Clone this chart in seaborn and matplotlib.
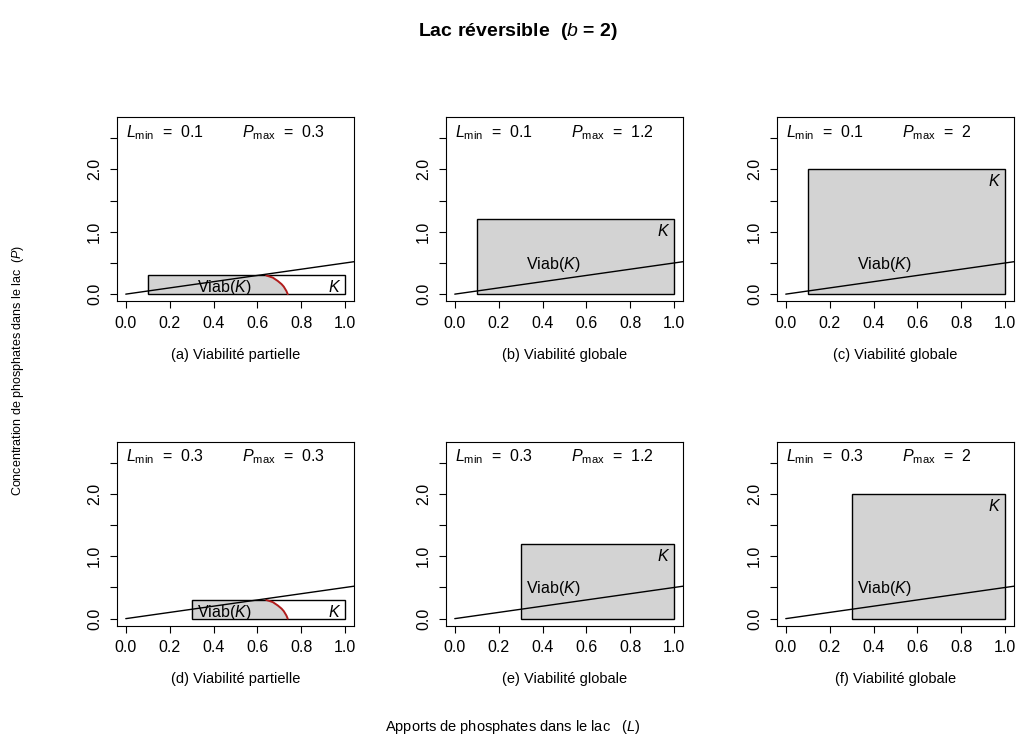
import numpy as np
import matplotlib
matplotlib.use("Agg")
import matplotlib.pyplot as plt
import seaborn as sns
import pandas as pd
from matplotlib.patches import Rectangle

# ---------------- data ----------------
captions = ["(a) Viabilité partielle", "(b) Viabilité globale", "(c) Viabilité globale",
            "(d) Viabilité partielle", "(e) Viabilité globale", "(f) Viabilité globale"]
L_min = [0.1, 0.1, 0.1, 0.3, 0.3, 0.3]
P_max = [0.3, 1.2, 2.0, 0.3, 1.2, 2.0]
L_min_text = ["0.1", "0.1", "0.1", "0.3", "0.3", "0.3"]
P_max_text = ["0.3", "1.2", "2", "0.3", "1.2", "2"]
partial = [True, False, False, True, False, False]

# equilibrium line P = L / b  (b = 2)
eq_L = [0.0, 1.1]
eq_P = [0.0, 0.55]

# boundary of the viability kernel (partial case)
curve_L = [0.64, 0.67, 0.693, 0.71, 0.72, 0.732, 0.738]
curve_P = [0.30, 0.265, 0.21, 0.16, 0.12, 0.05, 0.0]

x_ticks = [0.0, 0.2, 0.4, 0.6, 0.8, 1.0]
x_tick_labels = ["0.0", "0.2", "0.4", "0.6", "0.8", "1.0"]
y_ticks = [0.0, 0.5, 1.0, 1.5, 2.0, 2.5]
y_tick_labels = ["0.0", "", "1.0", "", "2.0", ""]

# ---------------- style ----------------
sns.set_style("white")
plt.rcParams["font.family"] = ["Liberation Sans", "DejaVu Sans"]
plt.rcParams["mathtext.fontset"] = "custom"
plt.rcParams["mathtext.rm"] = "Liberation Sans"
plt.rcParams["mathtext.it"] = "Liberation Sans:italic"
plt.rcParams["mathtext.bf"] = "Liberation Sans:bold"
plt.rcParams["text.color"] = "black"
plt.rcParams["axes.labelcolor"] = "black"
plt.rcParams["xtick.color"] = "black"
plt.rcParams["ytick.color"] = "black"
plt.rcParams["xtick.labelcolor"] = "black"
plt.rcParams["ytick.labelcolor"] = "black"

W, H = 1021, 741
fig = plt.figure(figsize=(W / 100, H / 100), dpi=100)
fig.patch.set_facecolor("white")

GRAY = "#d3d3d3"
FS = 11.5
FS_CAP = 10.5

col_left = [117, 446, 777]
row_top = [117, 441.5]
ax_w, ax_h = 237, 184

for i in range(6):
    r, c = divmod(i, 3)
    left = col_left[c] / W
    bottom = 1 - (row_top[r] + ax_h) / H
    ax = fig.add_axes([left, bottom, ax_w / W, ax_h / H])
    ax.set_xlim(-0.04, 1.04)
    ax.set_ylim(-0.11, 2.84)

    lm, pm = L_min[i], P_max[i]
    if partial[i]:
        poly_L = [lm, lm] + curve_L
        poly_P = [0.0, pm] + curve_P
        ax.fill(poly_L, poly_P, color=GRAY, lw=0, zorder=1)
        ax.add_patch(Rectangle((lm, 0), 1 - lm, pm, facecolor="none",
                               edgecolor="black", lw=1.0, zorder=2))
        sns.lineplot(x=curve_L, y=curve_P, ax=ax, color="#b01c1c", lw=1.4,
                     sort=False, zorder=3)
    else:
        ax.add_patch(Rectangle((lm, 0), 1 - lm, pm, facecolor=GRAY,
                               edgecolor="black", lw=1.0, zorder=2))

    sns.lineplot(x=eq_L, y=eq_P, ax=ax, color="black", lw=1.0, zorder=4)

    # annotations
    ax.text(0.0, 2.52, r"$L_{\mathrm{min}}$" + "  =  " + L_min_text[i],
            fontsize=FS, ha="left", va="baseline")
    ax.text(0.53, 2.52, r"$P_{\mathrm{max}}$" + "  =  " + P_max_text[i],
            fontsize=FS, ha="left", va="baseline")
    if partial[i]:
        ax.text(0.45, 0.10, r"Viab($K$)", fontsize=FS, ha="center", va="center", zorder=5)
    else:
        ax.text(0.45, 0.48, r"Viab($K$)", fontsize=FS, ha="center", va="center", zorder=5)
    ax.text(0.95, pm - 0.19, r"$K$", fontsize=FS, ha="center", va="center", zorder=5)

    ax.set_xticks(x_ticks)
    ax.set_xticklabels(x_tick_labels)
    ax.set_yticks(y_ticks)
    ax.set_yticklabels(y_tick_labels, rotation=90, va="center")
    ax.tick_params(axis="both", direction="out", length=4.8, width=0.8,
                   labelsize=FS, color="black", labelcolor="black", pad=6,
                   bottom=True, left=True)
    for s in ax.spines.values():
        s.set_visible(True)
        s.set_color("black")
        s.set_linewidth(0.8)
    ax.set_xlabel("")
    ax.set_ylabel("")

    cx = (col_left[c] + ax_w / 2) / W
    cy = 1 - (row_top[r] + ax_h + 54) / H
    fig.text(cx, cy, captions[i], fontsize=FS_CAP, ha="center", va="center")

fig.text(518 / W, 1 - 31 / H, r"Lac réversible  ($\mathbf{\mathit{b}}$ = 2)",
         fontsize=14, fontweight="bold", ha="center", va="center")
fig.text(18 / W, 1 - 370 / H, r"Concentration de phosphates dans le lac  ($P$)",
         fontsize=9, rotation=90, ha="center", va="center")
fig.text(513 / W, 1 - 727 / H, r"Apports de phosphates dans le lac   ($L$)",
         fontsize=FS_CAP, ha="center", va="center")

fig.savefig("out.png", dpi=100, facecolor="white")
